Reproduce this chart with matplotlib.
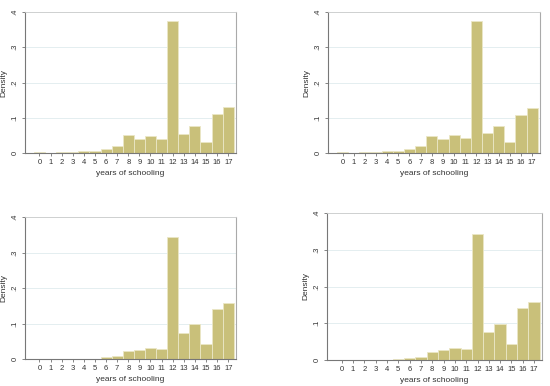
import numpy as np
import matplotlib.pyplot as plt

plt.rcParams['font.family'] = ['Liberation Sans', 'DejaVu Sans']

years = np.arange(18)

dens_a = [0.003, 0.001, 0.003, 0.004, 0.005, 0.007, 0.012, 0.019, 0.050, 0.040,
          0.048, 0.040, 0.374, 0.054, 0.078, 0.031, 0.110, 0.130]
dens_b = [0.003, 0.001, 0.003, 0.004, 0.005, 0.007, 0.012, 0.020, 0.049, 0.040,
          0.051, 0.042, 0.374, 0.056, 0.078, 0.030, 0.108, 0.127]
dens_c = [0.001, 0.001, 0.001, 0.001, 0.001, 0.001, 0.0056, 0.0085, 0.023, 0.026,
          0.031, 0.028, 0.345, 0.072, 0.098, 0.043, 0.141, 0.159]
dens_d = [0.001, 0.001, 0.001, 0.001, 0.001, 0.003, 0.0055, 0.0092, 0.023, 0.027,
          0.033, 0.030, 0.344, 0.075, 0.099, 0.044, 0.142, 0.158]

yticks = [0, 0.1, 0.2, 0.3, 0.4]
ytick_labels = ['0', '.1', '.2', '.3', '.4']

panels = [
    (dens_a, [25, 12, 236, 153]),
    (dens_b, [328, 12, 540, 153]),
    (dens_c, [25, 217, 236, 359]),
    (dens_d, [327, 213, 542, 360]),
]

W, H = 550, 386
fig = plt.figure(figsize=(5.5, 3.86), dpi=100)

for dens, (x0, y0, x1, y1) in panels:
    ax = fig.add_axes([x0 / W, 1 - y1 / H, (x1 - x0) / W, (y1 - y0) / H])
    ax.bar(years, dens, width=1.0, color='#c9c07a', edgecolor='#ebe7c6',
           linewidth=0.6, zorder=2)
    ax.set_xlim(-1.3, 17.7)
    ax.set_ylim(0, 0.4)
    ax.set_xticks(years)
    ax.set_xticklabels([str(v) for v in years], fontsize=5.5, color='#333333')
    ax.set_yticks(yticks)
    ax.set_yticklabels(ytick_labels, fontsize=5.5, color='#333333',
                       rotation=90, va='center')
    ax.tick_params(length=2.5, width=0.5, color='#555555', pad=2)
    ax.grid(axis='y', color='#e4eef0', linewidth=0.7, zorder=0)
    ax.set_axisbelow(True)
    ax.set_xlabel('years of schooling', fontsize=6, color='#333333', labelpad=3)
    ax.set_ylabel('Density', fontsize=6, color='#333333', labelpad=3)
    for side in ['left', 'bottom']:
        ax.spines[side].set_color('#777777')
        ax.spines[side].set_linewidth(0.8)
    ax.spines['right'].set_color('#aaaaaa')
    ax.spines['right'].set_linewidth(0.8)
    ax.spines['top'].set_color('#cccccc')
    ax.spines['top'].set_linewidth(0.6)

fig.savefig('out.png', dpi=100)
